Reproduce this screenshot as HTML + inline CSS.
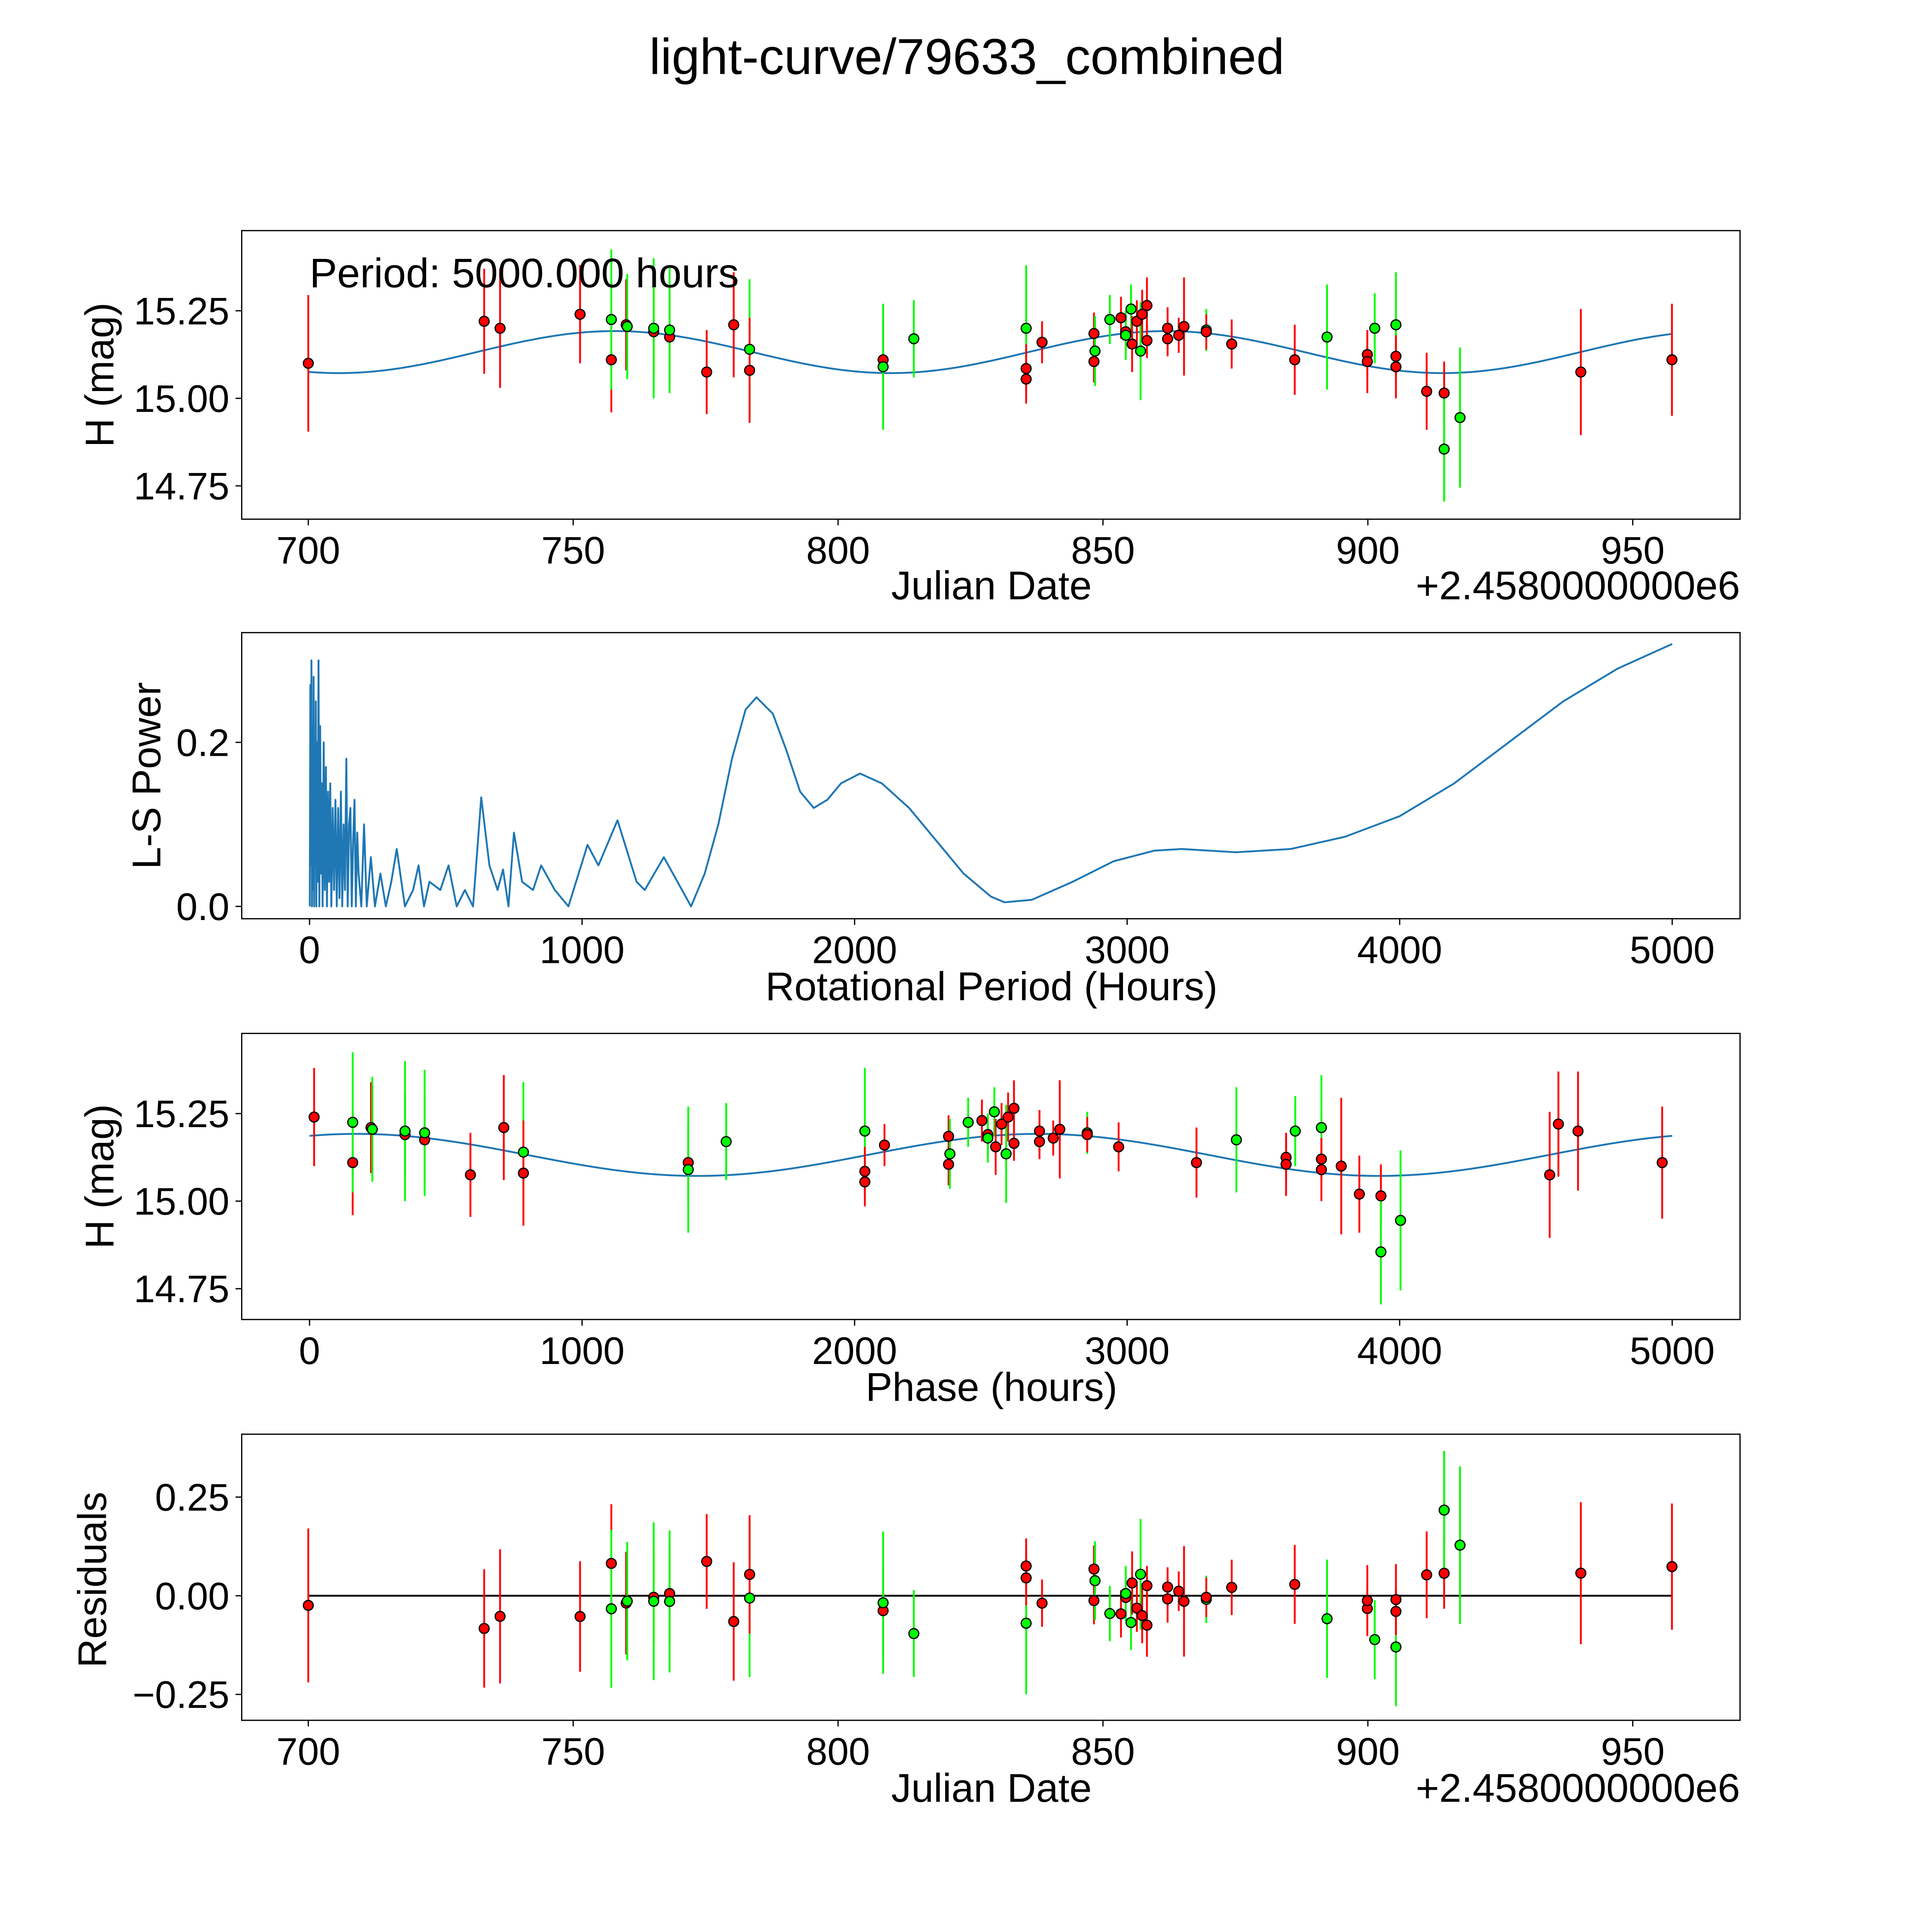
<!DOCTYPE html>
<html><head><meta charset="utf-8"><style>
html,body{margin:0;padding:0;background:#fff;overflow:hidden;width:5400px;height:5400px}
svg{display:block}
text{font-family:"Liberation Sans","DejaVu Sans",sans-serif;fill:#000}
</style></head><body>
<svg id="fig" xmlns="http://www.w3.org/2000/svg" width="5400" height="5400" viewBox="0 0 1692 1692">
<rect width="1692" height="1692" fill="#fff"/>
<text x="784" y="60" font-size="41" text-anchor="middle">light-curve/79633_combined</text>
</svg>
<script>
// ---- observation data ----
const dates = [700.0,733.2,736.2,751.3,757.2,757.2,760.0,760.2,765.2,765.2,768.2,768.2,775.2,780.3,783.3,783.3,808.5,808.5,814.3,835.5,835.5,835.5,838.5,848.3,848.3,848.5,851.3,853.4,854.3,854.3,855.3,855.5,856.4,857.1,857.4,858.3,858.3,862.2,862.2,864.3,865.3,869.5,869.5,874.3,886.2,892.3,899.9,899.9,901.3,905.3,905.3,905.3,911.1,914.4,914.4,917.4,940.2,957.4];
const mags = [15.10,15.22,15.20,15.24,15.11,15.225,15.21,15.205,15.19,15.20,15.175,15.195,15.075,15.21,15.14,15.08,15.11,15.09,15.17,15.20,15.085,15.055,15.16,15.185,15.105,15.135,15.225,15.23,15.19,15.18,15.255,15.155,15.22,15.135,15.24,15.265,15.165,15.20,15.17,15.18,15.205,15.195,15.19,15.155,15.11,15.175,15.125,15.105,15.20,15.21,15.12,15.09,15.02,15.015,14.855,14.945,15.075,15.11];
const errs = [0.195,0.15,0.17,0.14,0.15,0.2,0.13,0.15,0.12,0.2,0.13,0.18,0.12,0.15,0.2,0.15,0.11,0.18,0.11,0.18,0.07,0.07,0.06,0.06,0.06,0.1,0.07,0.06,0.06,0.07,0.07,0.08,0.06,0.14,0.07,0.08,0.05,0.06,0.05,0.05,0.14,0.06,0.05,0.07,0.1,0.15,0.06,0.09,0.1,0.15,0.06,0.09,0.11,0.09,0.15,0.2,0.18,0.16];
const filters = ["r","r","r","r","r","g","r","g","r","g","r","g","r","r","g","r","r","g","g","g","r","r","r","r","r","g","g","r","r","g","g","r","r","g","r","r","r","r","r","r","r","g","r","r","r","g","r","r","g","g","r","r","r","r","g","g","r","r"];
// ---- model ----
const modelMean = [15.132];
const modelAmp = [0.06];
const modelPeriodDays = [104.17];
const modelPeakDate = [862];
const foldPeriodHours = [5000];
const foldRefDate = [750.6];
// ---- periodogram ----
const lsPeriods = [1,3,5,7,9,11,13,15,17,19,21,23,25,27,30,33,36,39,42,45,48,52,56,60,64,68,72,76,80,85,90,95,100,105,110,115,120,125,130,135,140,145,150,155,160,165,170,175,180,190,200,210,225,240,260,280,300,320,350,380,400,420,440,480,510,540,570,600,630,660,690,710,730,750,780,820,850,900,950,1020,1060,1130,1200,1230,1300,1350,1400,1450,1500,1550,1600,1640,1700,1750,1800,1850,1900,1950,2020,2100,2200,2300,2400,2500,2550,2650,2800,2950,3100,3200,3400,3600,3800,4000,4200,4400,4600,4800,5000];
const lsPower = [0,0.27,0.05,0.3,0,0.22,0.02,0.28,0,0.18,0.05,0.25,0,0.2,0.03,0.3,0,0.22,0.04,0.15,0,0.2,0.02,0.17,0,0.14,0.03,0.15,0,0.12,0.02,0.13,0,0.12,0.01,0.14,0,0.1,0.02,0.18,0,0.1,0.12,0,0.08,0.13,0,0.09,0.04,0,0.1,0,0.06,0,0.04,0,0.03,0.07,0,0.02,0.05,0,0.03,0.02,0.05,0,0.02,0,0.133,0.05,0.02,0.045,0,0.09,0.03,0.02,0.05,0.02,0,0.075,0.05,0.105,0.03,0.02,0.06,0.03,0,0.04,0.1,0.18,0.24,0.255,0.235,0.19,0.14,0.12,0.13,0.15,0.162,0.15,0.12,0.08,0.04,0.012,0.005,0.008,0.03,0.055,0.068,0.07,0.066,0.07,0.085,0.11,0.15,0.2,0.25,0.29,0.32];
// ---- ticks ----
const dateTicks = [700,750,800,850,900,950];
const magTicks = ["15.25","15.00","14.75"];
const powerTicks = ["0.0","0.2"];
const hourTicks = [0,1000,2000,3000,4000,5000];
const residTicks = ["0.25","0.00","−0.25"];

const NS="http://www.w3.org/2000/svg";
const svg=document.getElementById('fig');
function mk(tag,attrs,parent){const e=document.createElementNS(NS,tag);for(const k in attrs)e.setAttribute(k,attrs[k]);(parent||svg).appendChild(e);return e;}
function lin(d0,d1,p0,p1){return v=>p0+(v-d0)*(p1-p0)/(d1-d0);}
const X=196,W=1215;
const panels=[{y0:187,y1:421},{y0:513,y1:745},{y0:838,y1:1070},{y0:1163,y1:1395}];
const xDate=lin(700,950,250,1324);
const xHour=lin(0,5000,251,1356);
const yMag1=lin(15.0,15.25,323,252);
const yPow=lin(0,0.2,735,602);
const yMag3=lin(15.0,15.25,974,903);
const yRes=lin(0,0.25,1294,1214);
function model(t){return modelMean[0]+modelAmp[0]*Math.cos(2*Math.PI*(t-modelPeakDate[0])/modelPeriodDays[0]);}
function phase(t){let h=((t-foldRefDate[0])*24)%foldPeriodHours[0];if(h<0)h+=foldPeriodHours[0];return h;}
const col=f=>f==='r'?'#ff0000':'#00ff00';

function frame(i,name){const p=panels[i];
  const r=mk('rect',{x:X,y:p.y0,width:W,height:p.y1-p.y0,fill:'none',stroke:'#000','stroke-width':1});
  
  }
function xticks(i,vals,fx,fmt,name){const p=panels[i];
  vals.forEach(v=>{const x=fx(v);
    const l=mk('line',{x1:x,x2:x,y1:p.y1,y2:p.y1+5,stroke:'#000'});
    
    
    const t=mk('text',{x:x,y:p.y1+36,'font-size':31,'text-anchor':'middle'});t.textContent=fmt(v);
    
    });}
function yticks(labels,fy,name){labels.forEach(s=>{const v=parseFloat(s.replace('−','-'));const y=fy(v);
    const l=mk('line',{x1:X-5,x2:X,y1:y,y2:y,stroke:'#000'});
    
    
    const t=mk('text',{x:X-10,y:y+11,'font-size':31,'text-anchor':'end'});t.textContent=s;
    
    });}
function label(x,y,txt,rot,name){const t=mk('text',{x:x,y:y,'font-size':32.5,'text-anchor':'middle'});
  if(rot)t.setAttribute('transform','rotate(-90 '+x+' '+y+')');t.textContent=txt;
  
  }
function curve(pts,color,name,w){const d=pts.map((p,i)=>(i?'L':'M')+p[0].toFixed(2)+','+p[1].toFixed(2)).join('');
  const e=mk('path',{d:d,fill:'none',stroke:color,'stroke-width':w||1.5,'stroke-linejoin':'round'});
  
  }
function points(xs,ys,es,fy,name){
  xs.forEach((x,i)=>{const l=mk('line',{x1:x,x2:x,y1:fy(ys[i]-es[i]),y2:fy(ys[i]+es[i]),stroke:col(filters[i]),'stroke-width':1.5});
    
    });
  xs.forEach((x,i)=>{const c=mk('circle',{cx:x,cy:fy(ys[i]),r:4,fill:col(filters[i]),stroke:'#000','stroke-width':1});
    
    });}

const tmin=dates[0],tmax=dates[dates.length-1];
// Panel 1
frame(0,'light-curve-axes');
{const pts=[];for(let k=0;k<=600;k++){const t=tmin+(tmax-tmin)*k/600;pts.push([xDate(t),yMag1(model(t))]);}curve(pts,'#1f77b4','model-curve');}
points(dates.map(xDate),mags,errs,yMag1,'observation');
xticks(0,dateTicks,xDate,v=>String(v),'date-axis');
yticks(magTicks,yMag1,'mag-axis');
label(804,486,'Julian Date',false,'x-axis-title-date');
{const t=mk('text',{x:1411,y:486,'font-size':32.5,'text-anchor':'end'});t.textContent='+2.4580000000e6';
 
 }
label(92,304,'H (mag)',true,'y-axis-title-mag');
{const t=mk('text',{x:251,y:233,'font-size':33.5});t.textContent='Period: 5000.000 hours';
 
 }
// Panel 2
frame(1,'periodogram-axes');
{const pts=[];lsPeriods.forEach((p,i)=>{pts.push([xHour(p),yPow(lsPower[i])]);});
 curve(pts,'#1f77b4','ls-power-curve',1.5);}
xticks(1,hourTicks,xHour,v=>String(v),'period-axis');
yticks(powerTicks,yPow,'power-axis');
label(804,811,'Rotational Period (Hours)',false,'x-axis-title-period');
label(130,629,'L-S Power',true,'y-axis-title-power');
// Panel 3
frame(2,'phase-axes');
{const pts=[];for(let k=0;k<=600;k++){const h=foldPeriodHours[0]*k/600;pts.push([xHour(h),yMag3(model(h/24+foldRefDate[0]))]);}curve(pts,'#1f77b4','phase-model-curve');}
points(dates.map(t=>xHour(phase(t))),mags,errs,yMag3,'phased-observation');
xticks(2,hourTicks,xHour,v=>String(v),'phase-axis');
yticks(magTicks,yMag3,'phase-mag-axis');
label(804,1136,'Phase (hours)',false,'x-axis-title-phase');
label(92,954,'H (mag)',true,'y-axis-title-phase-mag');
// Panel 4
frame(3,'residuals-axes');
{const l=mk('line',{x1:xDate(tmin),x2:xDate(tmax),y1:yRes(0),y2:yRes(0),stroke:'#000','stroke-width':1.5});
 
 }
points(dates.map(xDate),dates.map((t,i)=>model(t)-mags[i]),errs,yRes,'residual');
xticks(3,dateTicks,xDate,v=>String(v),'residual-date-axis');
yticks(residTicks,yRes,'residual-axis');
label(804,1461,'Julian Date',false,'x-axis-title-residual-date');
{const t=mk('text',{x:1411,y:1461,'font-size':32.5,'text-anchor':'end'});t.textContent='+2.4580000000e6';
 
 }
label(86,1281,'Residuals',true,'y-axis-title-residuals');
</script>
</body></html>
